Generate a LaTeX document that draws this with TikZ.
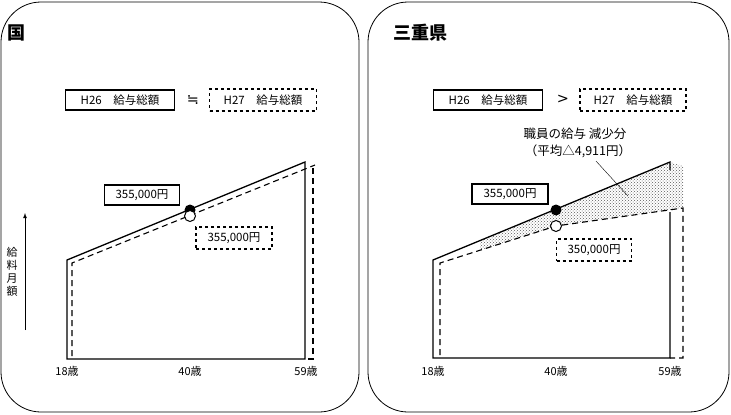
\documentclass[tikz,border=0pt]{standalone}
\usepackage{fontspec}
\setmainfont{Noto Sans CJK JP}
\newfontfamily\symfont{DejaVu Sans}
\usetikzlibrary{patterns}
\tikzset{
  panel/.style={draw, line width=0.8pt, rounded corners=40pt},
  solidbox/.style={draw, line width=1.2pt, minimum height=20pt, font=\fontsize{11.5}{13}\selectfont, inner xsep=6pt},
  dashbox/.style={draw, dashed, line width=1.2pt, minimum height=22pt, font=\fontsize{11.5}{13}\selectfont, inner xsep=6pt},
  curve/.style={line width=1.3pt},
  dcurve/.style={line width=1.1pt, dash pattern=on 6pt off 4pt},
  agelabel/.style={font=\fontsize{11}{12}\selectfont},
  title/.style={font=\bfseries\fontsize{18}{19}\selectfont},
}
\begin{document}
\begin{tikzpicture}[x=1pt,y=-1pt]
		\useasboundingbox (0,0) rectangle (731,415);
		% Panels
		\draw[panel] (1,2) rectangle (359,412);
		\draw[panel] (368,2) rectangle (729,412);
		\node[title] (tl) at (16,33) {国};
		\node[title] (tr) at (420,33) {三重県};

		% Left: totals
		\node[solidbox, minimum width=109pt] (L26) at (120,100) {H26\quad 給与総額};
		\node (Lsim) at (193,100) {\symfont\Large ≒};
		\node[dashbox, minimum width=107pt] (L27) at (263,100) {H27\quad 給与総額};

		% Left chart
		\draw[curve] (67,260) -- (67,359) -- (305,359) -- (305,162) -- cycle;
		\draw[dcurve] (72,356) -- (72,263) -- (315,165);
		\draw[dcurve] (313,168) -- (313,359) -- (305,359);
		\node[circle, fill=black, inner sep=0pt, minimum size=11pt] (Lfull) at (190,210) {};
		\node[circle, draw, fill=white, line width=1pt, inner sep=0pt, minimum size=11pt] (Lopen) at (190,216) {};
		\node[solidbox, minimum width=75pt] (Lb1) at (142,195) {355,000円};
		\node[dashbox, minimum width=76pt] (Lb2) at (234,238) {355,000円};
		\node (Ly) at (12,272) {\fontsize{11}{16}\selectfont\shortstack{給\\料\\月\\額}};
		\draw[-latex, thick] (25,330) -- (25,213);
		\node[agelabel] (La) at (67,371) {18歳};
		\node[agelabel] (Lb) at (190,371) {40歳};
		\node[agelabel] (Lc) at (306,371) {59歳};

		% Right: totals
		\node[solidbox, minimum width=109pt] (R26) at (488,100) {H26\quad 給与総額};
		\node (Rgt) at (563,99) {\symfont\Large >};
		\node[dashbox, minimum width=106pt] (R27) at (633,100) {H27\quad 給与総額};

		% Right chart
		\fill[pattern=crosshatch dots, pattern color=gray!70!black] (480,240.6) -- (670,162) -- (683,166) -- (683,208) -- (556,226) -- (480,250.2) -- cycle;
		\draw[curve] (670,170) -- (670,162) -- (433,260) -- (433,358) -- (670,358) -- (670,212);
		\draw[dcurve] (440,355) -- (440,263) -- (556,226) -- (683,208) -- (683,358) -- (670,358);
		\node[circle, fill=black, inner sep=0pt, minimum size=11pt] (Rfull) at (556,210) {};
		\node[circle, draw, fill=white, line width=1pt, inner sep=0pt, minimum size=11pt] (Ropen) at (556,226) {};
		\node[solidbox, minimum width=76pt] (Rb1) at (510,194) {355,000円};
		\node[dashbox, minimum width=75pt] (Rb2) at (594,250) {350,000円};
		\node[font=\fontsize{12.5}{14}\selectfont] (Rnote) at (575,134) {職員の給与 減少分};
		\node[font=\fontsize{12.5}{14}\selectfont] (Rnote2) at (578,151) {（平均△4,911円）};
		\coordinate (Rptr) at (628,196);
		\draw (Rnote2.south) ++(18,0) -- (Rptr);
		\node[agelabel] (Ra) at (433,371) {18歳};
		\node[agelabel] (Rb) at (556,371) {40歳};
		\node[agelabel] (Rc) at (670,371) {59歳};
\end{tikzpicture}
\end{document}
